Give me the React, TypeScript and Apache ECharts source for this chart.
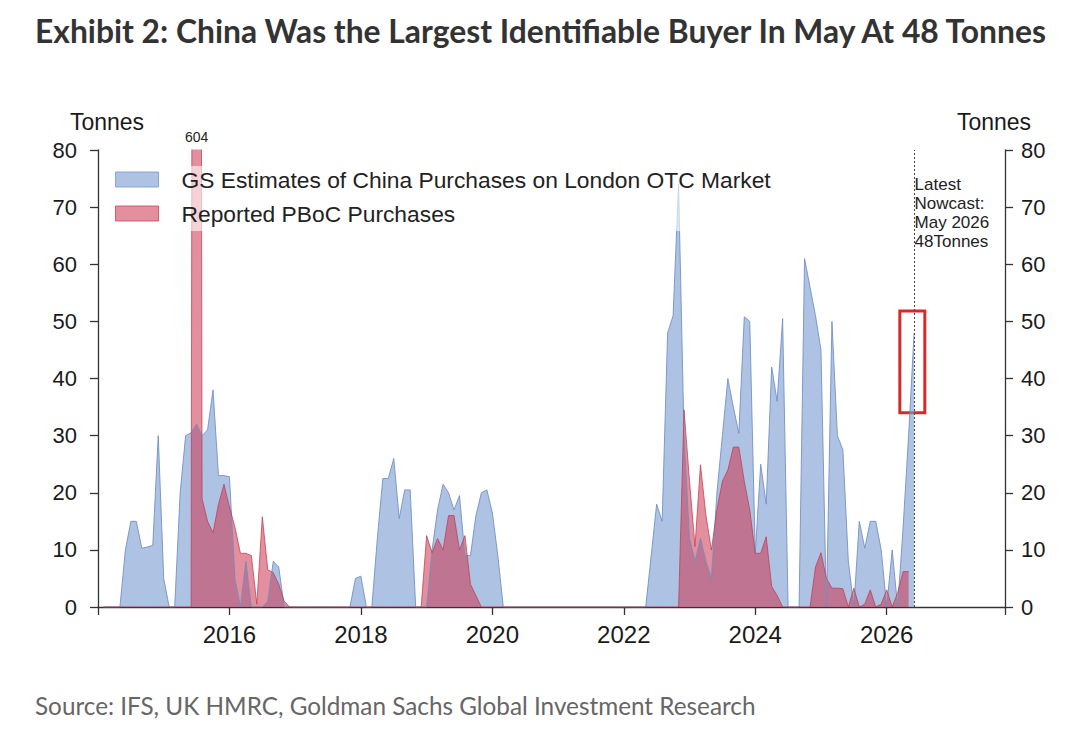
import { useEffect, useRef } from 'react';
import * as echarts from 'echarts';

// first year of the monthly series; every row below is Jan..Dec, plotted at month end
const START_YEAR = 2014;

// GS estimates of China purchases on the London OTC market (tonnes)
const gsEstimates: number[][] = [
  [0, 0, 0, 0, 10, 15, 15, 10.3, 10.5, 10.8, 30, 5],
  [0, 0, 20, 30, 30.5, 32, 30, 31, 38, 23, 23, 22.8],
  [5, 0, 8, 0, 0, 0, 1, 8, 7, 0, 0, 0],
  [0, 0, 0, 0, 0, 0, 0, 0, 0, 0, 5, 5.4],
  [0, 0, 12, 22.5, 22.5, 26, 15.5, 20.5, 20.5, 0, 0, 0],
  [10, 17, 21.5, 20, 17, 19.5, 9, 9, 16, 20, 20.5, 16.5],
  [9, 0, 0, 0, 0, 0, 0, 0, 0, 0, 0, 0],
  [0, 0, 0, 0, 0, 0, 0, 0, 0, 0, 0, 0],
  [0, 0, 0, 0, 9, 18, 15, 48, 51, 74, 30, 12],
  [8, 12, 8, 5, 20, 30, 40, 35, 30.4, 50.8, 50, 9.4],
  [25, 18, 42, 36, 50.5, 0, 0, 0, 61, 56, 51, 45],
  [0, 50, 30, 27.5, 8, 0, 15, 10.3, 15, 15, 10, 0],
  [10, 0, 14, 30, 48],
];

// reported PBoC purchases (tonnes)
const pbocReported: number[][] = [
  [0, 0, 0, 0, 0, 0, 0, 0, 0, 0, 0, 0],
  [0, 0, 0, 0, 0, 604, 19, 15, 13, 18, 21.5, 17.5],
  [14, 9.4, 9.4, 9, 0.5, 15.8, 6.5, 6, 4, 1, 0, 0],
  [0, 0, 0, 0, 0, 0, 0, 0, 0, 0, 0, 0],
  [0, 0, 0, 0, 0, 0, 0, 0, 0, 0, 0, 12.5],
  [9.5, 12, 10, 16, 16, 10, 12.5, 4, 2, 0, 0, 0],
  [0, 0, 0, 0, 0, 0, 0, 0, 0, 0, 0, 0],
  [0, 0, 0, 0, 0, 0, 0, 0, 0, 0, 0, 0],
  [0, 0, 0, 0, 0, 0, 0, 0, 0, 0, 34.5, 22],
  [10.6, 24.9, 16, 10, 17, 22, 24, 28, 28, 22, 17, 9.4],
  [9.4, 12.3, 3.6, 2, 0, 0, 0, 0, 0, 0, 7, 9.5],
  [5, 3.3, 3.3, 3.2, 0, 3.3, 0, 0.5, 3, 0, 0.5, 3],
  [0, 2.5, 6.2, 6.2],
];

const xTickYears = [2016, 2018, 2020, 2022, 2024, 2026];
const yMax = 80;
const yStep = 10;

// annotations
const spikeMonth = 2015 + 6 / 12;
const spikeValue = 604;
const nowcastMonth = 2026 + 5 / 12;
const nowcastLines = ['Latest', 'Nowcast:', 'May 2026', '48Tonnes'];
const nowcastLabelValue = 69;
const boxMonths = [2026.2, 2026.58];
const boxValues = [51.8, 34];

const GS_NAME = 'GS Estimates of China Purchases on London OTC Market';
const PBOC_NAME = 'Reported PBoC Purchases';

const toPairs = (rows: number[][]) =>
  rows.flatMap((row, yi) => row.map((v, mi) => [START_YEAR + yi + (mi + 1) / 12, v]));

const App = () => {
  const chartRef = useRef<HTMLDivElement>(null);

  useEffect(() => {
    document.body.style.margin = '0';
    if (!chartRef.current) return;
    const chart = echarts.init(chartRef.current, undefined, { renderer: 'svg' });

    const blueFill = 'rgba(120,155,210,0.6)';
    const redFill = 'rgba(205,55,80,0.56)';
    const axisColor = '#333';
    const font = 'Liberation Sans, Arial, sans-serif';

    const yAxisBase = {
      type: 'value',
      min: 0,
      max: yMax,
      interval: yStep,
      splitLine: { show: false },
      axisLine: { show: true, lineStyle: { color: axisColor, width: 1.3 } },
      axisTick: { show: true, length: 8, lineStyle: { color: axisColor, width: 1.3 } },
      name: 'Tonnes',
      nameLocation: 'end',
      nameGap: 17,
    };

    const option = {
      animation: false,
      textStyle: { fontFamily: font },
      title: [
        {
          text: 'Exhibit 2: China Was the Largest Identifiable Buyer In May At 48 Tonnes',
          left: 35,
          top: 15,
          padding: 0,
          textStyle: { fontFamily: 'Lato', fontWeight: 'bold', fontSize: 31.8, color: '#333' },
        },
        {
          text: 'Source: IFS, UK HMRC, Goldman Sachs Global Investment Research',
          left: 35,
          top: 693,
          padding: 0,
          textStyle: { fontFamily: 'Lato', fontWeight: 'normal', fontSize: 24.3, color: '#666' },
        },
      ],
      legend: {
        orient: 'vertical',
        left: 110,
        top: 166,
        padding: [2, 8, 6, 5],
        itemGap: 11,
        itemWidth: 43,
        itemHeight: 15,
        icon: 'rect',
        selectedMode: false,
        backgroundColor: 'rgba(255,255,255,0.6)',
        textStyle: { fontFamily: font, fontSize: 22.8, lineHeight: 23, color: '#222', padding: [0, 0, 0, 18] },
        data: [
          { name: GS_NAME, itemStyle: { color: blueFill, borderColor: 'rgba(120,150,205,0.8)', borderWidth: 1 } },
          { name: PBOC_NAME, itemStyle: { color: redFill, borderColor: 'rgba(200,70,90,0.8)', borderWidth: 1 } },
        ],
      },
      grid: { left: 98, right: 75, top: 150, bottom: 127 },
      xAxis: {
        type: 'value',
        min: 2014,
        max: 2027.8,
        interval: 2,
        splitLine: { show: false },
        axisLine: { lineStyle: { color: axisColor, width: 1.3 } },
        axisTick: { show: true, length: 8, lineStyle: { color: axisColor, width: 1.3 } },
        axisLabel: {
          fontSize: 24,
          color: '#1a1a1a',
          margin: 15,
          formatter: (v: number) => (xTickYears.includes(v) ? String(v) : ''),
        },
      },
      yAxis: [
        {
          ...yAxisBase,
          position: 'left',
          axisLabel: { fontSize: 22, color: '#1a1a1a', margin: 21 },
          nameTextStyle: { fontSize: 23, color: '#1a1a1a', padding: [0, 0, 0, 18] },
        },
        {
          ...yAxisBase,
          position: 'right',
          axisLabel: { fontSize: 22, color: '#1a1a1a', margin: 16 },
          nameTextStyle: { fontSize: 23, color: '#1a1a1a', padding: [0, 22, 0, 0] },
        },
      ],
      series: [
        {
          name: GS_NAME,
          type: 'line',
          data: toPairs(gsEstimates),
          color: blueFill,
          showSymbol: false,
          lineStyle: { width: 1, color: 'rgba(110,140,195,0.85)' },
          areaStyle: { color: blueFill, opacity: 1 },
          markLine: {
            silent: true,
            symbol: ['none', 'none'],
            label: { show: false },
            lineStyle: { color: '#444', type: [2, 2], width: 1 },
            data: [{ xAxis: nowcastMonth }],
          },
          markArea: {
            silent: true,
            itemStyle: { color: 'rgba(0,0,0,0)', borderColor: '#d42a2a', borderWidth: 3 },
            data: [[{ coord: [boxMonths[0], boxValues[0]] }, { coord: [boxMonths[1], boxValues[1]] }]],
          },
          markPoint: {
            silent: true,
            symbol: 'rect',
            symbolSize: 1,
            itemStyle: { color: 'rgba(0,0,0,0)' },
            label: {
              show: true,
              position: 'right',
              distance: 0,
              align: 'left',
              fontSize: 17,
              lineHeight: 19,
              color: '#222',
              formatter: nowcastLines.join('\n'),
            },
            data: [{ coord: [nowcastMonth, nowcastLabelValue] }],
          },
        },
        {
          name: PBOC_NAME,
          type: 'line',
          data: toPairs(pbocReported),
          color: redFill,
          showSymbol: false,
          lineStyle: { width: 1, color: 'rgba(190,60,80,0.75)' },
          areaStyle: { color: redFill, opacity: 1 },
          markPoint: {
            silent: true,
            symbol: 'rect',
            symbolSize: 1,
            itemStyle: { color: 'rgba(0,0,0,0)' },
            label: { show: true, position: 'top', distance: 6, fontSize: 14, color: '#222', formatter: '{c}' },
            data: [{ coord: [spikeMonth, yMax], value: spikeValue }],
          },
        },
      ],
    };

    chart.setOption(option);

    return () => {
      chart.dispose();
    };
  }, []);

  return <div ref={chartRef} style={{ width: '1080px', height: '734px' }} />;
};

export default App;
